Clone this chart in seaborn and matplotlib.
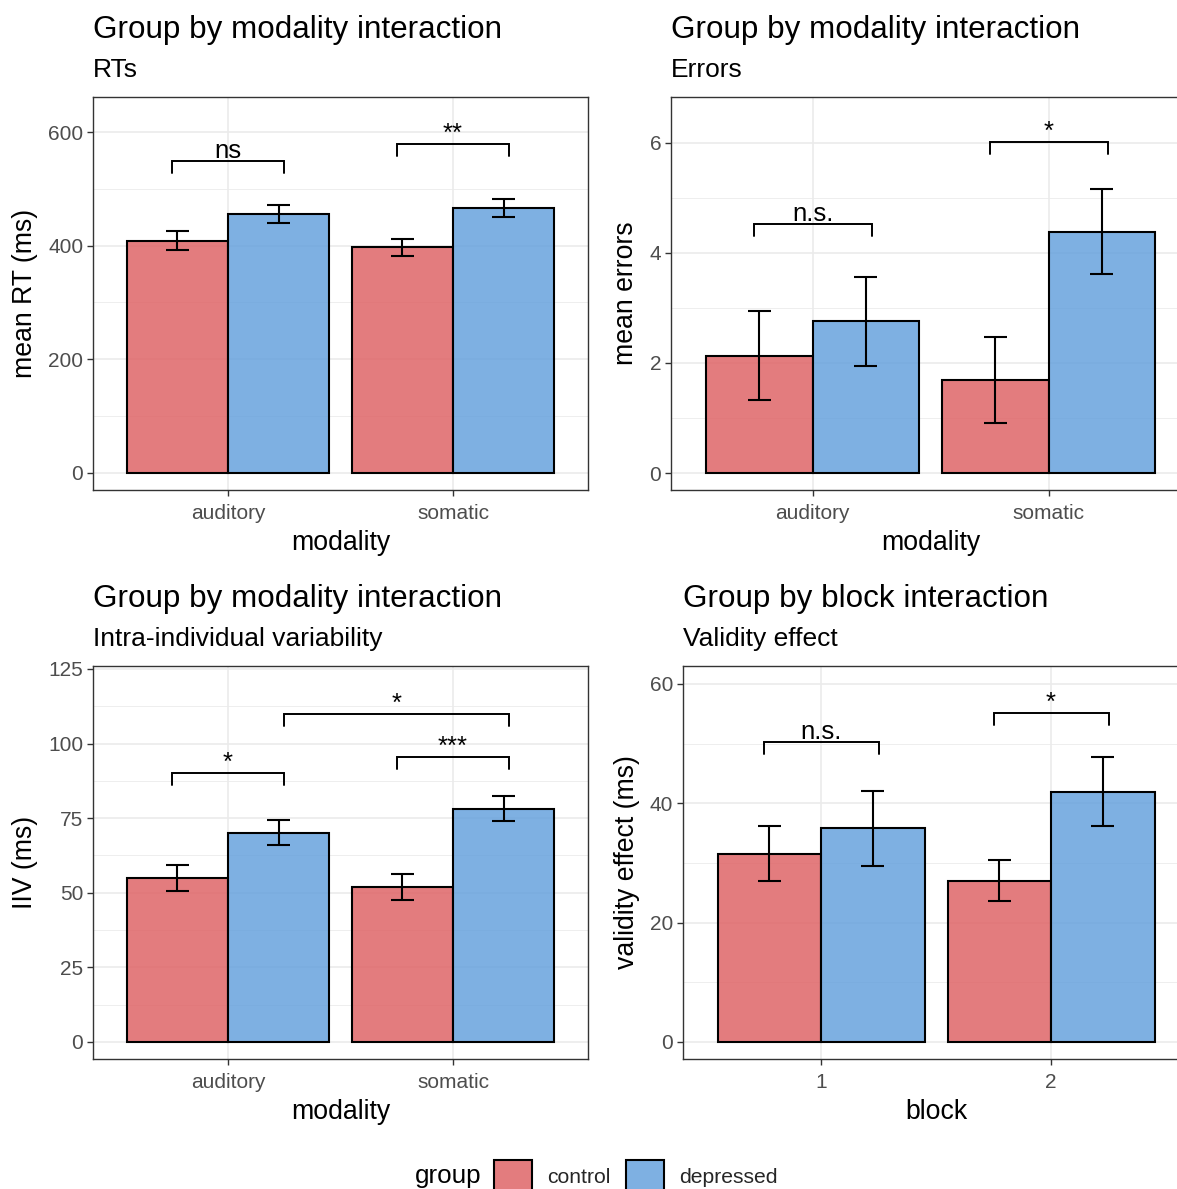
import numpy as np
import pandas as pd
import matplotlib
matplotlib.use("Agg")
import matplotlib.pyplot as plt
import seaborn as sns
from matplotlib.patches import Patch
from matplotlib.colors import to_rgba

# ---------------------------------------------------------------- data
groups = ["control", "depressed"]
modalities = ["auditory", "somatic"]
blocks = ["1", "2"]

# mean reaction time (ms) with error bar limits
rt_control = [409, 397]
rt_depressed = [456, 467]
rt_control_lo = [393, 381]
rt_control_hi = [426, 412]
rt_depressed_lo = [440, 451]
rt_depressed_hi = [472, 482]

# mean errors
err_control = [2.12, 1.69]
err_depressed = [2.76, 4.38]
err_control_lo = [1.33, 0.91]
err_control_hi = [2.94, 2.47]
err_depressed_lo = [1.95, 3.62]
err_depressed_hi = [3.56, 5.16]

# intra-individual variability (ms)
iiv_control = [55.0, 52.0]
iiv_depressed = [70.0, 78.0]
iiv_control_lo = [50.6, 47.6]
iiv_control_hi = [59.3, 56.3]
iiv_depressed_lo = [66.0, 74.0]
iiv_depressed_hi = [74.4, 82.4]

# validity effect (ms) per block
val_control = [31.5, 27.0]
val_depressed = [35.9, 41.9]
val_control_lo = [27.0, 23.6]
val_control_hi = [36.2, 30.5]
val_depressed_lo = [29.5, 36.2]
val_depressed_hi = [42.1, 47.8]

# significance brackets: (category from, group from, category to, group to, height, label)
rt_brackets = [("auditory", "control", "auditory", "depressed", 549, "ns"),
               ("somatic", "control", "somatic", "depressed", 579, "**")]
err_brackets = [("auditory", "control", "auditory", "depressed", 4.53, "n.s."),
                ("somatic", "control", "somatic", "depressed", 6.02, "*")]
iiv_brackets = [("auditory", "control", "auditory", "depressed", 90.1, "*"),
                ("somatic", "control", "somatic", "depressed", 95.5, "***"),
                ("auditory", "depressed", "somatic", "depressed", 110.0, "*")]
val_brackets = [("1", "control", "1", "depressed", 50.3, "n.s."),
                ("2", "control", "2", "depressed", 55.1, "*")]

# ---------------------------------------------------------------- style
W, H = 1177, 1189
sns.set_theme(style="white")
plt.rcParams["font.family"] = ["Liberation Sans", "DejaVu Sans"]

palette = {"control": "#DF6567", "depressed": "#67A2DD"}
FILL_ALPHA = 0.85
GRID = "#EBEBEB"
FRAME = "#333333"
TICKLAB = "#4D4D4D"
LW_BAR = 1.5
LW_ERR = 1.5
LW_BRACKET = 1.4

fig = plt.figure(figsize=(W / 100, H / 100), dpi=100)


def px_axes(left, right, top, bottom):
    return fig.add_axes([left / W, 1 - bottom / H, (right - left) / W, (bottom - top) / H])


def draw_panel(ax, cats, ctrl, dep, ctrl_lo, ctrl_hi, dep_lo, dep_hi,
               ylim, yticks, yminor, brackets):
    df = pd.DataFrame({
        "x": cats + cats,
        "group": [groups[0]] * len(cats) + [groups[1]] * len(cats),
        "value": ctrl + dep,
    })
    sns.barplot(data=df, x="x", y="value", hue="group", order=cats,
                hue_order=groups, palette=palette, width=0.9, errorbar=None,
                saturation=1, edgecolor="black", linewidth=LW_BAR, legend=False,
                ax=ax, zorder=2)
    for p in ax.patches:
        p.set_facecolor(to_rgba(p.get_facecolor()[:3], FILL_ALPHA))

    # error bars at the bar centres
    for cont, lo, hi in zip(ax.containers, [ctrl_lo, dep_lo], [ctrl_hi, dep_hi]):
        for bar, l, h in zip(cont.patches, lo, hi):
            cx = bar.get_x() + bar.get_width() / 2
            ax.vlines(cx, l, h, color="black", lw=LW_ERR, zorder=3)
            ax.hlines([l, h], cx - 0.05, cx + 0.05, color="black", lw=LW_ERR, zorder=3)

    ax.set_xlim(-0.6, len(cats) - 0.4)
    ax.set_ylim(*ylim)
    ax.set_yticks(yticks)
    ax.set_yticks(yminor, minor=True)
    ax.set_axisbelow(True)
    ax.grid(True, which="major", color=GRID, lw=1.2)
    ax.grid(True, which="minor", axis="y", color=GRID, lw=0.6)
    ax.tick_params(which="major", bottom=True, left=True, length=4.5,
                   width=1.0, color=FRAME, labelcolor=TICKLAB, labelsize=15,
                   pad=2.5)
    ax.tick_params(which="minor", length=0)
    ax.tick_params(axis="x", pad=5.5)
    for s in ax.spines.values():
        s.set_visible(True)
        s.set_color(FRAME)
        s.set_linewidth(1.0)
    ax.set_xlabel("")
    ax.set_ylabel("")

    # significance brackets
    tip = 0.03 * (ylim[1] - ylim[0])
    half = 0.25
    for c1, g1, c2, g2, y, lab in brackets:
        x1 = cats.index(c1) + (-half if g1 == groups[0] else half)
        x2 = cats.index(c2) + (-half if g2 == groups[0] else half)
        ax.plot([x1, x1, x2, x2], [y - tip, y, y, y - tip], color="black",
                lw=LW_BRACKET, solid_joinstyle="miter", zorder=4)
        ax.annotate(lab, ((x1 + x2) / 2, y), xytext=(0, 2.2),
                    textcoords="offset points", ha="center", va="baseline",
                    fontsize=18.5, color="black", zorder=5)


def headings(left, base_title, title, subtitle):
    fig.text(left / W, 1 - base_title / H, title, fontsize=22.6,
             va="baseline", ha="left", color="black")
    fig.text(left / W, 1 - (base_title + 39) / H, subtitle, fontsize=19,
             va="baseline", ha="left", color="black")


def axis_titles(xc, yc, ylab, xlab_y, xlab_x, xlab):
    fig.text(xc / W, 1 - yc / H, ylab, rotation=90, fontsize=19.2,
             ha="center", va="center", color="black")
    fig.text(xlab_x / W, 1 - xlab_y / H, xlab, fontsize=19.2,
             ha="center", va="center", color="black")


# ---------------------------------------------------------------- panels
ax1 = px_axes(93, 588, 97, 490)
draw_panel(ax1, modalities, rt_control, rt_depressed, rt_control_lo,
           rt_control_hi, rt_depressed_lo, rt_depressed_hi,
           (-30, 661.6), [0, 200, 400, 600], [100, 300, 500], rt_brackets)
headings(93, 38, "Group by modality interaction", "RTs")
axis_titles(25, 293.5, "mean RT (ms)", 543, 340.5, "modality")

ax2 = px_axes(671, 671 + 2.2 * 236, 97, 490)
draw_panel(ax2, modalities, err_control, err_depressed, err_control_lo,
           err_control_hi, err_depressed_lo, err_depressed_hi,
           (-0.309, 6.836), [0, 2, 4, 6], [1, 3, 5], err_brackets)
headings(671, 38, "Group by modality interaction", "Errors")
axis_titles(626, 293.5, "mean errors", 543, 930.5, "modality")

ax3 = px_axes(93, 588, 666, 1059)
draw_panel(ax3, modalities, iiv_control, iiv_depressed, iiv_control_lo,
           iiv_control_hi, iiv_depressed_lo, iiv_depressed_hi,
           (-5.7, 126), [0, 25, 50, 75, 100, 125],
           [12.5, 37.5, 62.5, 87.5, 112.5], iiv_brackets)
headings(93, 607, "Group by modality interaction", "Intra-individual variability")
axis_titles(25, 862.5, "IIV (ms)", 1112, 340.5, "modality")

ax4 = px_axes(683, 683 + 2.2 * 230, 666, 1059)
draw_panel(ax4, blocks, val_control, val_depressed, val_control_lo,
           val_control_hi, val_depressed_lo, val_depressed_hi,
           (-2.85, 63.0), [0, 20, 40, 60], [10, 30, 50], val_brackets)
headings(683, 607, "Group by block interaction", "Validity effect")
axis_titles(627, 862.5, "validity effect (ms)", 1112, 936, "block")

# ---------------------------------------------------------------- legend
handles = [Patch(facecolor=to_rgba(palette[g], FILL_ALPHA), edgecolor="black",
                 linewidth=LW_BAR) for g in groups]
fs = 15.2
fpx = fs * 100 / 72
fig.text(415 / W, 1 - 1176 / H, "group", fontsize=18.7, ha="left",
         va="center", color="black")
fig.legend(handles, groups, loc="center left",
           bbox_to_anchor=(494 / W, 1 - 1176 / H), ncol=2, frameon=False,
           fontsize=fs, handlelength=38 / fpx, handleheight=42 / fpx,
           handletextpad=15 / fpx, columnspacing=16 / fpx,
           borderpad=0, borderaxespad=0)

fig.savefig("out.png", dpi=100)
